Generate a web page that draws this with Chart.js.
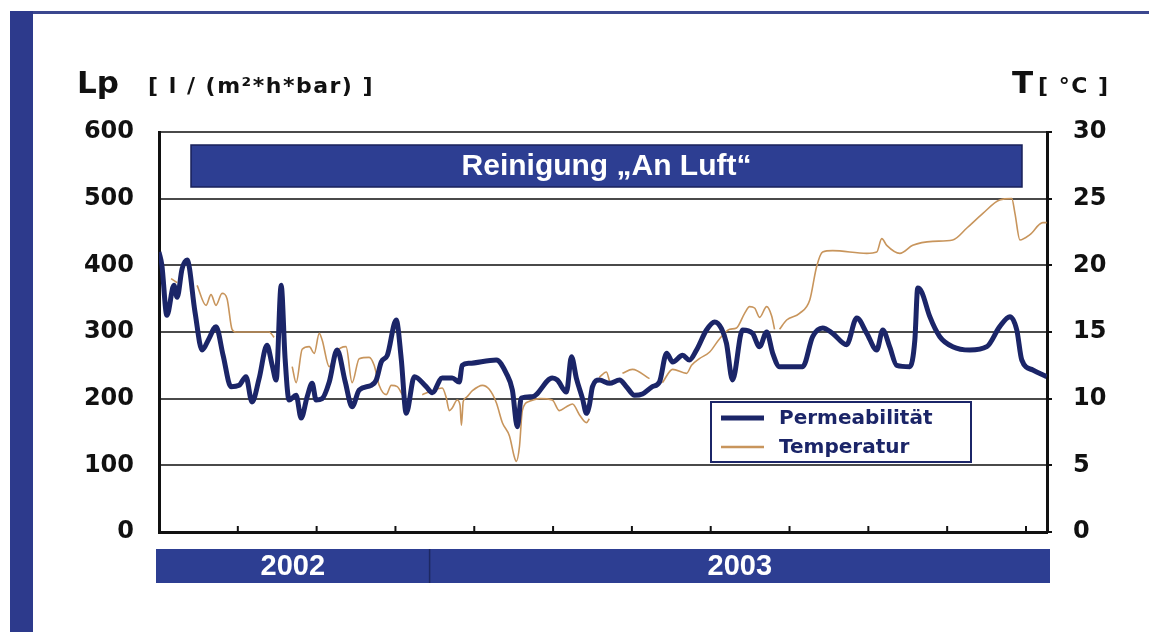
<!DOCTYPE html>
<html lang="de">
<head>
<meta charset="utf-8">
<title>Reinigung „An Luft“ – Permeabilität und Temperatur</title>
<script src="https://cdn.jsdelivr.net/npm/chart.js@4.4.1/dist/chart.umd.min.js"></script>
<style>
  html, body { margin: 0; padding: 0; background: #fff; }
  #wrap { position: relative; width: 1149px; height: 632px; overflow: hidden; }
  .randLinks { position: absolute; left: 10px; top: 11px; width: 23px; height: 621px; background: #2d3a8c; }
  .randOben { position: absolute; left: 10px; top: 11px; right: 0; height: 3px; background: #3b478f; }
  #diagramm { position: absolute; left: 0; top: 0; }
</style>
</head>
<body>
<div id="wrap">
  <div class="randOben"></div>
  <div class="randLinks"></div>
  <canvas id="diagramm" width="1149" height="632"></canvas>
</div>
<script>
// ===================== DATEN =====================
// Tage seit Messbeginn (x) und Permeabilität Lp in l/(m²*h*bar)
const permTage = [0, 1.1, 3.0, 5.7, 6.9, 8.8, 10.7, 13.7, 16.4, 19.0, 21.7, 24.4, 27.4, 30.5, 33.1, 35.4,
  38.1, 41.1, 43.1, 44.6, 46.5, 48.0, 49.5, 52.2, 54.1, 56.4, 58.3, 59.8, 62.1, 64.8, 67.8, 70.9, 73.5,
  76.2, 80.8, 82.7, 84.6, 86.9, 90.3, 92.2, 94.1, 97.2, 101.7, 104.0, 107.8, 111.6, 114.3, 115.4, 118.1,
  128.4, 132.2, 134.5, 136.4, 137.9, 142.1, 149.7, 151.6, 155.1, 157.0, 158.9, 161.2, 162.7, 163.8, 165.0,
  167.6, 171.5, 175.3, 177.9, 181.0, 184.0, 187.8, 190.5, 193.2, 195.5, 199.3, 201.9, 204.6, 208.4, 211.5,
  214.1, 216.0, 218.3, 222.1, 225.9, 228.6, 231.3, 233.6, 236.2, 245.0, 248.8, 252.6, 256.4, 261.7, 265.6,
  269.4, 273.2, 275.5, 278.1, 280.8, 285.8, 287.7, 288.8, 290.3, 293.4, 297.2, 302.1, 308.6, 315.1, 320.0,
  323.9, 326.5, 328.4, 332.6, 337.9];
const permWerte = [420, 400, 325, 370, 352, 395, 408, 330, 273, 290, 308, 265, 218, 220, 233, 195,
  230, 280, 250, 228, 370, 260, 198, 205, 171, 203, 223, 198, 200, 225, 273, 225, 188,
  213, 220, 228, 255, 265, 318, 260, 178, 233, 218, 209, 231, 231, 225, 250, 253,
  258, 238, 213, 158, 201, 203, 231, 228, 210, 263, 230, 200, 178, 190, 218,
  228, 223, 228, 218, 205, 207, 218, 225, 268, 255, 265, 258, 273, 303, 315,
  305, 283, 228, 303, 298, 278, 300, 268, 248, 248, 293, 306, 298, 281, 321,
  298, 273, 303, 278, 250, 248, 288, 366, 360, 323, 293, 278, 273, 278, 308,
  323, 303, 258, 243, 233];

// Temperatur in °C, null = Messlücke
const tempTage = [4.6, 6.9, 8.0, 14.5, 17.9, 19.8, 21.7, 24.0, 25.9, 27.8, 29.3, 41.9, 43.8, 45.0,
  50.7, 52.2, 54.5, 57.2, 59.1, 61.0, 62.1, 64.8, 67.4, 71.2, 73.5, 76.2, 80.0, 81.9, 83.8, 86.5, 88.4,
  90.7, 92.6, 94.0, 100.2, 104.0, 107.8, 109.3, 110.5, 111.6, 113.5, 114.6, 115.1, 115.8, 117.0, 119.3,
  123.1, 125.7, 128.4, 130.7, 133.4, 135.3, 136.0, 137.2, 138.3, 141.0, 144.8, 149.7, 152.4, 155.1, 157.4,
  160.0, 162.7, 163.8, 165.0, 167.6, 170.3, 171.5, 173.0, 176.4, 180.2, 186.7, 189.0, 191.6, 195.5, 200.8,
  202.7, 205.7, 209.6, 213.4, 217.2, 219.8, 222.9, 224.8, 226.7, 228.6, 231.3, 233.2, 234.3, 235.2, 236.2,
  238.9, 243.8, 247.7, 250.3, 252.6, 256.4, 269.4, 273.2, 275.1, 277.0, 282.0, 286.9, 294.5, 302.1, 307.5,
  313.6, 320.0, 324.6, 325.8, 327.7, 331.5, 336.4, 337.9];
const tempWerte = [19.0, 18.7, null, 18.5, 17.0, 17.8, 17.0, 17.9, 17.5, 15.2, 15.0, 15.0, 14.6, null,
  12.4, 11.2, 13.7, 13.9, 13.4, 14.9, 14.4, 12.4, 13.5, 13.9, 11.2, 13.0, 13.1, 12.5, 11.0, 10.3, 11.0,
  10.9, 10.3, null, 10.3, 10.6, 10.8, 10.1, 9.1, 9.3, 9.9, 9.5, 8.0, 9.8, 10.1, 10.6,
  11.0, 10.7, 9.7, 8.2, 7.2, 5.6, 5.3, 6.4, 9.1, 9.8, 10.0, 9.9, 9.1, 9.4, 9.6,
  8.8, 8.2, 8.5, null, 11.6, 12.0, 11.3, null, 11.9, 12.2, 11.5, null, 11.2, 12.2, 11.9,
  12.5, 13.0, 13.5, 14.5, 15.2, 15.3, 16.4, 16.9, 16.8, 16.1, 16.9, 16.2, 15.2, null, 15.2,
  15.9, 16.4, 17.4, 19.9, 21.0, 21.1, 20.9, 21.0, 22.0, 21.5, 20.9, 21.5, 21.8, 21.9, 22.8,
  23.9, 24.9, 25.0, 23.9, 21.9, 22.3, 23.2, 23.2];

// Achsen
const xMax = 338;
const monatsTicks = [30, 60, 90, 120, 150, 180, 210, 240, 270, 300, 330];
const lpTicks = [0, 100, 200, 300, 400, 500, 600];
const tTicks = [0, 5, 10, 15, 20, 25, 30];
const jahre = ["2002", "2003"];
const jahresGrenzen = [0, 103, xMax];

// ===================== STIL =====================
const NAVY = "#1b2568";
const BRAUN = "#c8955c";
const BALKEN = "#2d3e92";
const SCHRIFT = '"DejaVu Sans", sans-serif';
const SCHRIFT_BALKEN = '"Liberation Sans", Arial, sans-serif';

const punkte = (xs, ys) => xs.map((t, i) => ({ x: t, y: ys[i] }));

// ===================== ZUSATZ-ZEICHNUNG =====================
const rahmenPlugin = {
  id: "rahmen",
  afterDraw(chart) {
    const { ctx, chartArea: a, scales } = chart;
    const x = scales.x;
    ctx.save();

    // Achsentitel
    ctx.fillStyle = "#111";
    ctx.textAlign = "left";
    ctx.textBaseline = "alphabetic";
    ctx.font = `bold 31px ${SCHRIFT}`;
    ctx.fillText("Lp", 77, 93);
    ctx.fillText("T", 1012, 93);
    ctx.font = `bold 22px ${SCHRIFT}`;
    ctx.letterSpacing = "1.5px";
    ctx.fillText("[ l / (m²*h*bar) ]", 148, 93);
    ctx.fillText("[ °C ]", 1038, 93);
    ctx.letterSpacing = "0px";

    // kleine Monatsstriche nach innen
    ctx.strokeStyle = "#111";
    ctx.lineWidth = 2;
    monatsTicks.forEach((t) => {
      const px = x.getPixelForValue(t);
      ctx.beginPath();
      ctx.moveTo(px, a.bottom);
      ctx.lineTo(px, a.bottom - 6);
      ctx.stroke();
    });

    // Überschriftsbalken im Diagramm
    const bx0 = a.left + 32, bx1 = a.right - 25, by0 = a.top + 13, bh = 42;
    ctx.fillStyle = BALKEN;
    ctx.fillRect(bx0, by0, bx1 - bx0, bh);
    ctx.strokeStyle = "#18215a";
    ctx.lineWidth = 1.5;
    ctx.strokeRect(bx0, by0, bx1 - bx0, bh);
    ctx.fillStyle = "#fff";
    ctx.textAlign = "center";
    ctx.textBaseline = "middle";
    ctx.font = `bold 30px ${SCHRIFT_BALKEN}`;
    ctx.fillText("Reinigung „An Luft“", (bx0 + bx1) / 2, by0 + bh / 2 + 1);

    // Jahresband unter der x-Achse
    const yb0 = a.bottom + 17, ybh = 34;
    jahre.forEach((j, i) => {
      const x0 = x.getPixelForValue(jahresGrenzen[i]) - (i === 0 ? 3 : 0);
      const x1 = x.getPixelForValue(jahresGrenzen[i + 1]) + (i === jahre.length - 1 ? 3 : 0);
      ctx.fillStyle = BALKEN;
      ctx.fillRect(x0, yb0, x1 - x0, ybh);
      ctx.fillStyle = "#fff";
      ctx.font = `bold 29px ${SCHRIFT_BALKEN}`;
      ctx.fillText(j, (x0 + x1) / 2, yb0 + ybh / 2 + 1);
    });
    ctx.strokeStyle = "#1d2862";
    ctx.lineWidth = 1.5;
    for (let i = 1; i < jahresGrenzen.length - 1; i++) {
      const px = x.getPixelForValue(jahresGrenzen[i]);
      ctx.beginPath();
      ctx.moveTo(px, yb0);
      ctx.lineTo(px, yb0 + ybh);
      ctx.stroke();
    }

    // Legende
    const lx = a.left + 552, ly = a.top + 270, lw = 260, lh = 60;
    ctx.fillStyle = "#fff";
    ctx.fillRect(lx, ly, lw, lh);
    ctx.strokeStyle = NAVY;
    ctx.lineWidth = 2;
    ctx.strokeRect(lx, ly, lw, lh);
    ctx.textAlign = "left";
    ctx.textBaseline = "middle";
    ctx.font = `bold 20px ${SCHRIFT}`;
    chart.data.datasets.forEach((ds, i) => {
      const yy = ly + 16 + i * 29;
      ctx.strokeStyle = ds.borderColor;
      ctx.lineWidth = i === 0 ? 5 : 2.5;
      ctx.beginPath();
      ctx.moveTo(lx + 10, yy);
      ctx.lineTo(lx + 53, yy);
      ctx.stroke();
      ctx.fillStyle = NAVY;
      ctx.fillText(ds.label, lx + 68, yy + 1);
    });

    ctx.restore();
  },
};

// ===================== CHART =====================
new Chart(document.getElementById("diagramm"), {
  type: "line",
  data: {
    datasets: [
      {
        label: "Permeabilität",
        data: punkte(permTage, permWerte),
        yAxisID: "y",
        borderColor: NAVY,
        borderWidth: 5,
        pointRadius: 0,
        cubicInterpolationMode: "monotone",
      },
      {
        label: "Temperatur",
        data: punkte(tempTage, tempWerte),
        yAxisID: "y1",
        borderColor: BRAUN,
        borderWidth: 1.6,
        pointRadius: 0,
        spanGaps: false,
        cubicInterpolationMode: "monotone",
      },
    ],
  },
  options: {
    responsive: false,
    animation: false,
    layout: { padding: { top: 132, left: 0, right: 0, bottom: 0 } },
    plugins: { legend: { display: false }, tooltip: { enabled: false } },
    scales: {
      x: {
        type: "linear",
        min: 0,
        max: xMax,
        ticks: { display: false },
        grid: { display: false },
        border: { display: true, color: "#111", width: 3 },
        afterFit: (s) => { s.height = 100; },
      },
      y: {
        position: "left",
        min: 0,
        max: 600,
        afterBuildTicks: (s) => { s.ticks = lpTicks.map((v) => ({ value: v })); },
        ticks: { color: "#111", padding: 25, font: { family: SCHRIFT, size: 24, weight: "bold" } },
        grid: { color: "#4a4a4a", lineWidth: 2, drawTicks: false },
        border: { color: "#111", width: 3 },
        afterFit: (s) => { s.width = 159; },
      },
      y1: {
        position: "right",
        min: 0,
        max: 30,
        afterBuildTicks: (s) => { s.ticks = tTicks.map((v) => ({ value: v })); },
        ticks: { color: "#111", padding: 21, font: { family: SCHRIFT, size: 24, weight: "bold" } },
        grid: { drawOnChartArea: false, color: "#111", lineWidth: 2, tickLength: 5 },
        border: { color: "#111", width: 3 },
        afterFit: (s) => { s.width = 102; },
      },
    },
  },
  plugins: [rahmenPlugin],
});
</script>
</body>
</html>
